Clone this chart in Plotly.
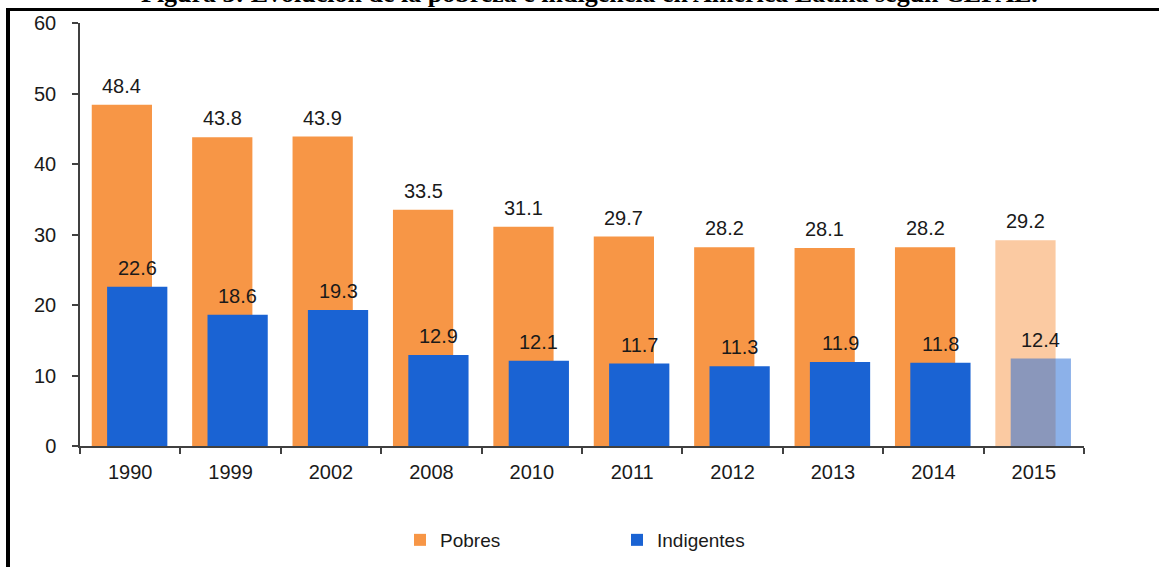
import plotly.graph_objects as go

years = ["1990", "1999", "2002", "2008", "2010", "2011", "2012", "2013", "2014", "2015"]
pobres = [48.4, 43.8, 43.9, 33.5, 31.1, 29.7, 28.2, 28.1, 28.2, 29.2]
indigentes = [22.6, 18.6, 19.3, 12.9, 12.1, 11.7, 11.3, 11.9, 11.8, 12.4]
labels = ["Pobres", "Indigentes"]
title_text = "Figura 3: Evolución de la pobreza e indigencia en América Latina según CEPAL."

W, H = 1159, 567
L, R, T, B = 80, 75, 23, 121
pw, ph = W - L - R, H - T - B

def px_x(p):
    return (p - L) / pw

def px_y(p):
    return (H - B - p) / ph

orange = "#F79646"
orange_light = "rgba(247,150,70,0.5)"
blue = "#1A63D3"
blue_light = "rgba(26,99,211,0.5)"

o_off, o_w = -0.383, 0.6
b_off, b_w = -0.23, 0.6

o_colors = [orange] * (len(years) - 1) + [orange_light]
b_colors = [blue] * (len(years) - 1) + [blue_light]

font_family = "Liberation Sans, Arial, sans-serif"
txt_color = "#1a1a1a"

fig = go.Figure()
fig.add_trace(go.Bar(x=years, y=pobres, name=labels[0], offset=o_off, width=o_w,
                     marker=dict(color=o_colors, line=dict(width=0))))
fig.add_trace(go.Bar(x=years, y=indigentes, name=labels[1], offset=b_off, width=b_w,
                     marker=dict(color=b_colors, line=dict(width=0))))

annotations = []
for i, v in enumerate(pobres):
    annotations.append(dict(x=i + o_off + o_w / 2, y=v, xref="x", yref="y", text=f"{v:.1f}",
                            showarrow=False, yshift=19, yanchor="middle",
                            font=dict(size=20, color=txt_color, family=font_family)))
for i, v in enumerate(indigentes):
    annotations.append(dict(x=i + b_off + b_w / 2, y=v, xref="x", yref="y", text=f"{v:.1f}",
                            showarrow=False, yshift=19, yanchor="middle",
                            font=dict(size=20, color=txt_color, family=font_family)))

annotations.append(dict(x=px_x(589), y=px_y(10), xref="paper", yref="paper", text=f"<b>{title_text}</b>",
                        showarrow=False, xanchor="center", yanchor="bottom",
                        font=dict(size=26, color="#000000", family="Liberation Serif, Times New Roman, serif")))

shapes = [
    dict(type="line", xref="paper", yref="paper", x0=px_x(6), x1=px_x(1200), y0=px_y(9.5), y1=px_y(9.5),
         line=dict(color="black", width=3)),
    dict(type="line", xref="paper", yref="paper", x0=px_x(8), x1=px_x(8), y0=px_y(8), y1=px_y(600),
         line=dict(color="black", width=4)),
]

fig.update_layout(
    width=W, height=H, autosize=False,
    margin=dict(l=L, r=R, t=T, b=B, autoexpand=False),
    paper_bgcolor="white", plot_bgcolor="white",
    barmode="overlay",
    font=dict(family=font_family, size=19, color=txt_color),
    showlegend=True,
    legend=dict(orientation="h", x=px_x(400), y=px_y(540), xanchor="left", yanchor="middle",
                font=dict(size=19, color=txt_color), entrywidth=172, traceorder="normal"),
    annotations=annotations,
    shapes=shapes,
)
fig.update_xaxes(type="category", range=[-0.5, len(years) - 0.5], showline=True, linecolor="#404040",
                 linewidth=1.5, ticks="outside", tickson="boundaries", ticklen=6, tickcolor="#404040",
                 tickwidth=1.5, showgrid=False, tickfont=dict(size=20, color=txt_color),
                 ticklabelstandoff=7, automargin=False)
fig.update_yaxes(range=[0, 60], dtick=10, showline=True, linecolor="#404040", linewidth=1.5,
                 ticks="outside", ticklen=6, tickcolor="#404040", tickwidth=1.5, showgrid=False,
                 zeroline=False, tickfont=dict(size=20, color=txt_color), ticklabelstandoff=12,
                 automargin=False)

fig.write_html("out.html", config={"displayModeBar": False},
               post_script="document.body.style.margin='0';document.body.style.overflow='hidden';")
